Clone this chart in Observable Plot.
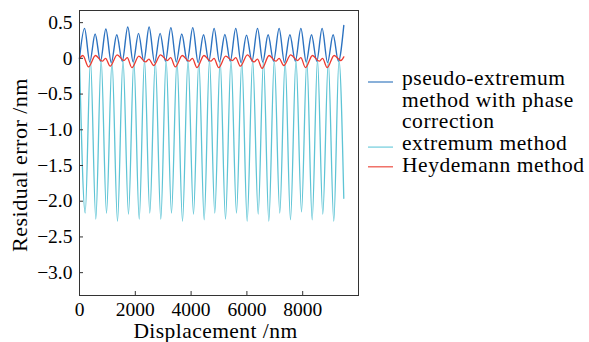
<!DOCTYPE html>
<html>
<head>
<meta charset="utf-8">
<script src="https://cdn.jsdelivr.net/npm/d3@7"></script>
<script src="https://cdn.jsdelivr.net/npm/@observablehq/plot@0.6"></script>
<style>
  html, body { margin: 0; padding: 0; background: #fff; }
</style>
</head>
<body>
<div id="chart"></div>
<script>
// Tick labels
const xTicks = [0, 2000, 4000, 6000, 8000];
const yTicks = [0.5, 0, -0.5, -1, -1.5, -2, -2.5, -3];

// pseudo-extremum method with phase correction (peaks / troughs)
const blueX = [0, 180, 370, 560, 752, 945, 1140, 1335, 1532, 1730, 1922, 2115, 2305, 2495, 2692, 2890, 3082, 3275, 3470, 3665, 3862, 4060, 4252, 4445, 4635, 4825, 5017, 5210, 5405, 5600, 5792, 5985, 6182, 6380, 6570, 6760, 6957, 7155, 7347, 7540, 7737, 7935, 8125, 8315, 8505, 8695, 8892, 9090, 9280, 9473];
const blueY = [0.0, 0.42, -0.05, 0.34, -0.04, 0.41, -0.06, 0.33, -0.04, 0.44, -0.05, 0.35, -0.04, 0.44, -0.06, 0.35, -0.04, 0.43, -0.05, 0.34, -0.04, 0.43, -0.06, 0.33, -0.04, 0.42, -0.05, 0.335, -0.04, 0.42, -0.06, 0.325, -0.04, 0.42, -0.05, 0.33, -0.04, 0.42, -0.06, 0.33, -0.04, 0.42, -0.05, 0.33, -0.04, 0.42, -0.06, 0.33, -0.04, 0.46];

// extremum method
const cyanX = [0, 204, 394, 584, 776, 968, 1165, 1362, 1559, 1756, 1948, 2140, 2330, 2520, 2717, 2914, 3105, 3297, 3494, 3692, 3889, 4086, 4277, 4469, 4659, 4849, 5041, 5233, 5430, 5627, 5818, 6010, 6207, 6405, 6595, 6785, 6982, 7179, 7370, 7562, 7760, 7957, 8148, 8340, 8530, 8720, 8917, 9114, 9300, 9473];
const cyanY = [0.0, -2.165, -0.03, -2.25, -0.02, -2.165, -0.04, -2.28, -0.02, -2.18, -0.03, -2.25, -0.02, -2.165, -0.04, -2.25, -0.02, -2.165, -0.03, -2.28, -0.02, -2.18, -0.04, -2.26, -0.02, -2.165, -0.03, -2.25, -0.02, -2.165, -0.04, -2.28, -0.02, -2.18, -0.03, -2.28, -0.02, -2.165, -0.04, -2.26, -0.02, -2.15, -0.03, -2.26, -0.02, -2.18, -0.04, -2.28, -0.02, -1.96];

// Heydemann method
const redX = [0, 120, 323, 573, 813, 933, 1100, 1350, 1590, 1710, 1878, 2128, 2368, 2488, 2656, 2906, 3146, 3266, 3434, 3684, 3924, 4044, 4211, 4461, 4701, 4821, 4989, 5239, 5479, 5599, 5767, 6017, 6257, 6377, 6544, 6794, 7034, 7154, 7322, 7572, 7812, 7932, 8100, 8350, 8590, 8710, 8877, 9127, 9367, 9473];
const redY = [0.0, 0.04, -0.12, 0.04, -0.04, 0.0, -0.11, 0.05, -0.03, 0.01, -0.13, 0.03, -0.05, -0.01, -0.10, 0.05, -0.03, 0.01, -0.12, 0.04, -0.04, 0.0, -0.13, 0.04, -0.04, 0.0, -0.13, 0.03, -0.03, 0.01, -0.11, 0.05, -0.05, -0.01, -0.14, 0.04, -0.04, 0.0, -0.10, 0.05, -0.03, 0.01, -0.13, 0.04, -0.04, 0.0, -0.13, 0.04, -0.03, 0.02];

// Legend labels (wrapped as in the figure)
const legendLabels = [["pseudo-extremum", "method with phase", "correction"], ["extremum method"], ["Heydemann method"]];

const colors = ["#2c72c0", "#5ec4d5", "#ee3a30"];
const legendColors = ["#4a86c5", "#7ad0df", "#ee5a50"];

const toRows = (xs, ys) => xs.map((x, i) => ({x, y: ys[i]}));
const blue = toRows(blueX, blueY);
const cyan = toRows(cyanX, cyanY);
const red = toRows(redX, redY);

const W = 589, H = 342;
const mL = 79, mR = 231, mT = 10, mB = 47;
const plotW = W - mL - mR, plotH = H - mT - mB;
const FONT = "'Liberation Serif', 'Times New Roman', serif";

const fmtY = d => d === 0 ? "0" : d.toFixed(1).replace("-", "\u2212");

const chart = Plot.plot({
  width: W, height: H,
  marginLeft: mL, marginRight: mR, marginTop: mT, marginBottom: mB,
  style: {fontFamily: FONT, fontSize: "19.5px", background: "#fff", color: "#000"},
  x: {domain: [0, 10000]},
  y: {domain: [-3.32, 0.67]},
  marks: [
    Plot.line(blue, {x: "x", y: "y", stroke: colors[0], strokeWidth: 1.4, curve: "monotone-x"}),
    Plot.line(cyan, {x: "x", y: "y", stroke: colors[1], strokeWidth: 1.3, curve: "monotone-x"}),
    Plot.line(red, {x: "x", y: "y", stroke: colors[2], strokeWidth: 1.3, curve: "monotone-x"}),
    Plot.frame({stroke: "#333", strokeWidth: 1}),
    Plot.tickX(xTicks, {x: d => d, insetTop: plotH - 4, stroke: "#333"}),
    Plot.tickY(yTicks, {y: d => d, insetRight: plotW - 4, stroke: "#333"}),
    Plot.axisX({ticks: xTicks, tickSize: 0, tickPadding: 7, label: null, tickFormat: d => String(d)}),
    Plot.axisY({ticks: yTicks, tickSize: 0, tickPadding: 7, label: null, tickFormat: fmtY})
  ]
});

const svg = d3.select(chart);
// Axis titles
svg.append("text")
  .attr("x", mL + plotW / 2 - 3).attr("y", 337.5)
  .attr("text-anchor", "middle")
  .attr("font-size", 21.5)
  .attr("letter-spacing", 0.45)
  .attr("fill", "#000")
  .text("Displacement /nm");
svg.append("text")
  .attr("transform", `translate(27,165) rotate(-90)`)
  .attr("text-anchor", "middle")
  .attr("font-size", 22)
  .attr("letter-spacing", 0.5)
  .attr("fill", "#000")
  .text("Residual error /nm");

// Legend
const lg = svg.append("g").attr("font-size", 21.5).attr("fill", "#000").attr("text-anchor", "start").attr("letter-spacing", 0.55);
let baseY = 85;
legendLabels.forEach((lines, i) => {
  const ly = baseY - (i === 2 ? 5 : 3);
  lg.append("line")
    .attr("x1", 368).attr("x2", 393)
    .attr("y1", ly).attr("y2", ly)
    .attr("stroke", legendColors[i]).attr("stroke-width", 1.3);
  lines.forEach((t, j) => {
    lg.append("text").attr("x", 402).attr("y", baseY + j * 21.7).attr("text-anchor", "start").text(t);
  });
  baseY += lines.length * 21.7;
});

svg.selectAll("text").attr("font-family", FONT);

document.getElementById("chart").appendChild(chart);
</script>
</body>
</html>
